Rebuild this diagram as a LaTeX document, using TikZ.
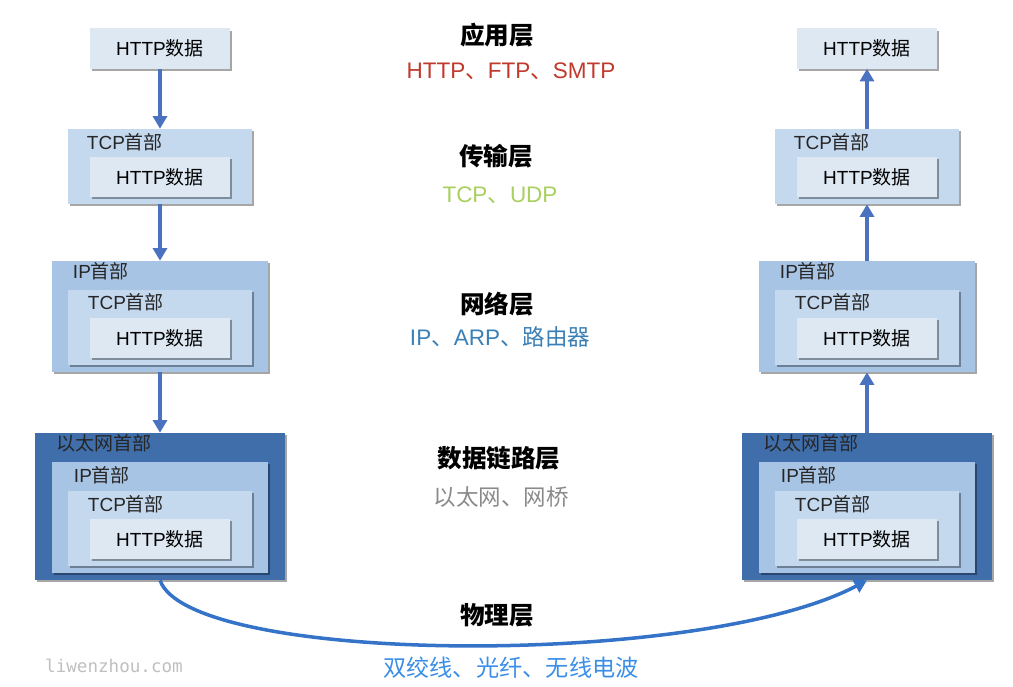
\documentclass[tikz,border=0pt]{standalone}
\usepackage{fontspec}
\setmainfont{Liberation Sans}
\setmonofont{DejaVu Sans Mono}
\newfontfamily\cjk{Noto Sans CJK SC}
\newcommand{\zh}[1]{{\cjk #1}}
\usetikzlibrary{positioning,calc,shadows,arrows.meta}

\definecolor{httpfill}{HTML}{DEE8F3}
\definecolor{tcpfill}{HTML}{C4D8EE}
\definecolor{ipfill}{HTML}{A8C4E4}
\definecolor{ethfill}{HTML}{3F6EAA}
\definecolor{flowblue}{HTML}{4A72C0}
\definecolor{wireblue}{HTML}{3473C8}
\definecolor{appred}{HTML}{C0392B}
\definecolor{trgreen}{HTML}{A9CF5E}
\definecolor{netblue}{HTML}{3A7FB5}
\definecolor{linkgray}{HTML}{8A8A8A}
\definecolor{phyblue}{HTML}{3B8EE8}

\begin{document}
\begin{tikzpicture}[
    x=0.025cm,
    y=-0.025cm,
    >={Triangle[width=10pt,length=9pt]},
    pkt/.style={
        inner sep=0pt,
        drop shadow={shadow xshift=1.5pt,shadow yshift=-1.5pt,
            opacity=0.35,fill=black}
    },
    httpbox/.style={
        pkt,
        fill=httpfill,
        minimum width=3.5cm,
        minimum height=1cm,
        font=\fontsize{13.5}{16}\selectfont
    },
    tcpbox/.style={
        pkt,
        fill=tcpfill,
        minimum width=4.6cm,
        minimum height=1.875cm
    },
    ipbox/.style={
        pkt,
        fill=ipfill,
        minimum width=5.4cm,
        minimum height=2.775cm
    },
    ethbox/.style={
        pkt,
        fill=ethfill,
        minimum width=6.25cm,
        minimum height=3.675cm
    },
    hdr/.style={
        anchor=west,
        inner sep=0pt,
        text=black!85,
        font=\fontsize{13.5}{16}\selectfont
    },
    layer/.style={
        inner sep=0pt,
        font=\fontsize{17.5}{20}\selectfont\cjk\bfseries
    },
    proto/.style={
        inner sep=0pt,
        font=\fontsize{16}{19}\selectfont
    },
    flow/.style={
        ->,
        draw=flowblue,
        line width=2.5pt
    }
]

\useasboundingbox (0,0) rectangle (1013,686);

%%%%%%%%%%%%%%%%%%%%%%%%%%%%%%%%%%%%%%%%%%%%%%%%%%%%
%% Sender
%%%%%%%%%%%%%%%%%%%%%%%%%%%%%%%%%%%%%%%%%%%%%%%%%%%%

\node[httpbox] (appL) at (160,48.5) {HTTP\zh{数据}};

\node[tcpbox] (trL) at (160,166.5) {};
\node[httpbox,above=0.175cm of trL.south] (trLhttp) {HTTP\zh{数据}};
\node[hdr] (trLlbl) at ($(trL.north west)+(19,14)$) {TCP\zh{首部}};

\node[ipbox] (netL) at (160,316.5) {};
\node[tcpbox,above=0.175cm of netL.south] (netLtcp) {};
\node[httpbox,above=0.175cm of netLtcp.south] (netLhttp) {HTTP\zh{数据}};
\node[hdr] (netLlbl) at ($(netL.north west)+(21,11)$) {IP\zh{首部}};
\node[hdr] (netLtcplbl) at ($(netLtcp.north west)+(20,13)$) {TCP\zh{首部}};

\node[ethbox] (linkL) at (160,506.5) {};
\node[ipbox,above=0.175cm of linkL.south] (linkLip) {};
\node[tcpbox,above=0.175cm of linkLip.south] (linkLtcp) {};
\node[httpbox,above=0.175cm of linkLtcp.south] (linkLhttp) {HTTP\zh{数据}};
\node[hdr] (linkLlbl) at ($(linkL.north west)+(22,11)$) {\zh{以太网首部}};
\node[hdr] (linkLiplbl) at ($(linkLip.north west)+(22,14)$) {IP\zh{首部}};
\node[hdr] (linkLtcplbl) at ($(linkLtcp.north west)+(20,14)$) {TCP\zh{首部}};

%%%%%%%%%%%%%%%%%%%%%%%%%%%%%%%%%%%%%%%%%%%%%%%%%%%%
%% Receiver
%%%%%%%%%%%%%%%%%%%%%%%%%%%%%%%%%%%%%%%%%%%%%%%%%%%%

\node[httpbox] (appR) at (867,48.5) {HTTP\zh{数据}};

\node[tcpbox] (trR) at (867,166.5) {};
\node[httpbox,above=0.175cm of trR.south] (trRhttp) {HTTP\zh{数据}};
\node[hdr] (trRlbl) at ($(trR.north west)+(19,14)$) {TCP\zh{首部}};

\node[ipbox] (netR) at (867,316.5) {};
\node[tcpbox,above=0.175cm of netR.south] (netRtcp) {};
\node[httpbox,above=0.175cm of netRtcp.south] (netRhttp) {HTTP\zh{数据}};
\node[hdr] (netRlbl) at ($(netR.north west)+(21,11)$) {IP\zh{首部}};
\node[hdr] (netRtcplbl) at ($(netRtcp.north west)+(20,13)$) {TCP\zh{首部}};

\node[ethbox] (linkR) at (867,506.5) {};
\node[ipbox,above=0.175cm of linkR.south] (linkRip) {};
\node[tcpbox,above=0.175cm of linkRip.south] (linkRtcp) {};
\node[httpbox,above=0.175cm of linkRtcp.south] (linkRhttp) {HTTP\zh{数据}};
\node[hdr] (linkRlbl) at ($(linkR.north west)+(22,11)$) {\zh{以太网首部}};
\node[hdr] (linkRiplbl) at ($(linkRip.north west)+(22,14)$) {IP\zh{首部}};
\node[hdr] (linkRtcplbl) at ($(linkRtcp.north west)+(20,14)$) {TCP\zh{首部}};

%%%%%%%%%%%%%%%%%%%%%%%%%%%%%%%%%%%%%%%%%%%%%%%%%%%%
%% Layer names
%%%%%%%%%%%%%%%%%%%%%%%%%%%%%%%%%%%%%%%%%%%%%%%%%%%%

\node[layer] (applayer) at (497,35) {应用层};
\node[proto,text=appred] (appproto) at (511,71)
{HTTP\zh{、}FTP\zh{、}SMTP};

\node[layer] (trlayer) at (496,156) {传输层};
\node[proto,text=trgreen] (trproto) at (500,195)
{TCP\zh{、}UDP};

\node[layer] (netlayer) at (497,304) {网络层};
\node[proto,text=netblue] (netproto) at (500,337)
{IP\zh{、}ARP\zh{、路由器}};

\node[layer] (linklayer) at (499,458) {数据链路层};
\node[proto,text=linkgray] (linkproto) at (501,497)
{\zh{以太网、网桥}};

\node[layer] (phylayer) at (497,615) {物理层};
\node[proto,text=phyblue,font=\fontsize{16.5}{19}\selectfont] (phyproto)
at (511,668) {\zh{双绞线、光纤、无线电波}};

\node[
    inner sep=0pt,
    text=black!25,
    font=\ttfamily\fontsize{12.5}{15}\selectfont
] (mark) at (114,666) {liwenzhou.com};

%%%%%%%%%%%%%%%%%%%%%%%%%%%%%%%%%%%%%%%%%%%%%%%%%%%%
%% Arrows
%%%%%%%%%%%%%%%%%%%%%%%%%%%%%%%%%%%%%%%%%%%%%%%%%%%%

\draw[flow] (appL) -- (trL);
\draw[flow] (trL) -- (netL);
\draw[flow] (netL) -- (linkL);

\draw[flow] (linkR) -- (netR);
\draw[flow] (netR) -- (trR);
\draw[flow] (trR) -- (appR);

\draw[flow,draw=wireblue] (linkL.south)
    .. controls ($(linkL.south)+(30,85)$) and ($(linkR.south)+(-166,88)$)
    .. (linkR.south);

\end{tikzpicture}
\end{document}
